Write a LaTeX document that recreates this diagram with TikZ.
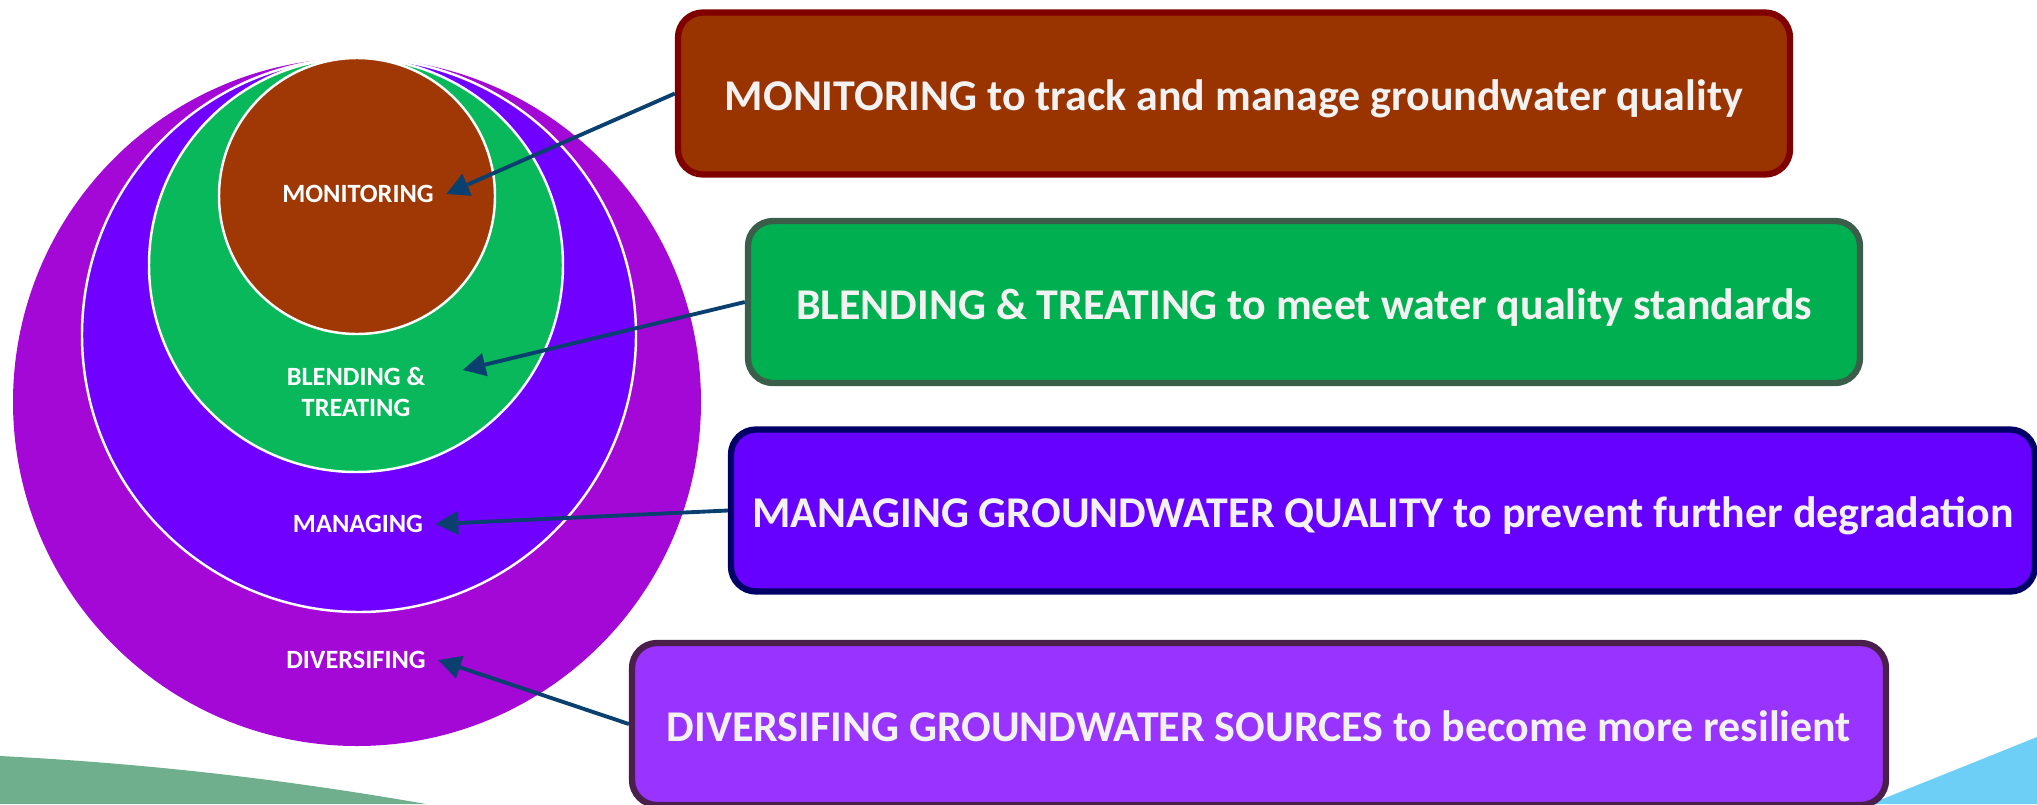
\documentclass[tikz,border=0pt]{standalone}
\usepackage{fontspec}
\setmainfont{Carlito}
\usetikzlibrary{arrows.meta}
\definecolor{divpurple}{HTML}{A308D6}
\definecolor{manblue}{HTML}{7000FF}
\definecolor{blendgreen}{HTML}{08B85A}
\definecolor{monbrown}{HTML}{A03806}
\definecolor{monfill}{HTML}{993300}
\definecolor{monline}{HTML}{800000}
\definecolor{blfill}{HTML}{00B050}
\definecolor{blline}{HTML}{3B5E4B}
\definecolor{mnfill}{HTML}{6600FF}
\definecolor{mnline}{HTML}{000066}
\definecolor{dvfill}{HTML}{9933FF}
\definecolor{dvline}{HTML}{4B1F4B}
\definecolor{arrowblue}{HTML}{0A4070}
\definecolor{swgreen}{HTML}{6FAF8E}
\definecolor{swblue}{HTML}{6DCFF6}
\begin{document}
\begin{tikzpicture}
            [ring/.style ={circle,draw=white,line width=0.7pt,inner sep=0pt},
             lbl/.style ={text=white,font=\bfseries\fontsize{7.5}{8.6}\selectfont,align=center},
             card/.style ={draw,rounded corners=2.5mm,line width=1.8pt,minimum height=1.62cm,
                           text height=0.43cm,text depth=0.09cm,
                           text=white!95!black,font=\bfseries\fontsize{12.5}{14}\selectfont},
             link/.style ={-{Triangle[length=6.5pt,width=6.5pt]},draw=arrowblue,line width=1.1pt}]
            \useasboundingbox (0,0) rectangle (20.37,8.04);
            % swooshes at the bottom
            \fill[swgreen] (0,0) -- (0,0.48) .. controls (1.6,0.40) and (3.0,0.22) .. (4.26,0) -- cycle;
            \fill[swblue] (18.70,0) .. controls (19.3,0.24) and (19.8,0.44) .. (20.37,0.67) -- (20.37,0) -- cycle;
            % nested circles
            \node[ring,draw=none,fill=divpurple,minimum size=6.88cm] (c4) at (3.57,4.02) {};
            \node[ring,fill=manblue,minimum size=5.54cm] (c3) at (3.59,4.69) {};
            \node[ring,fill=blendgreen,minimum size=4.14cm] (c2) at (3.56,5.39) {};
            \node[ring,fill=monbrown,minimum size=2.76cm] (c1) at (3.57,6.08) {};
            \node[lbl] (mon) at (3.58,6.10) {MONITORING};
            \node[lbl] (blend) at (3.56,4.12) {BLENDING \&\\TREATING};
            \node[lbl] (man) at (3.58,2.80) {MANAGING};
            \node[lbl] (div) at (3.56,1.44) {DIVERSIFING};
            % boxes
            \node[card,fill=monfill,draw=monline,minimum width=11.12cm] (mbox) at (12.34,7.105)
                {MONITORING to track and manage groundwater quality};
            \node[card,fill=blfill,draw=blline,minimum width=11.12cm] (bbox) at (13.04,5.02)
                {BLENDING \& TREATING to meet water quality standards};
            \node[card,fill=mnfill,draw=mnline,minimum width=13.04cm] (gbox) at (13.83,2.935)
                {MANAGING GROUNDWATER QUALITY to prevent further degradation};
            \node[card,fill=dvfill,draw=dvline,minimum width=12.54cm] (dbox) at (12.59,0.80)
                {DIVERSIFING GROUNDWATER SOURCES to become more resilient};
            \draw[link] (mbox.west) to (mon.east);
            \draw[link] (bbox.west) to ([xshift=2.5mm,yshift=2.2mm]blend.east);
            \draw[link] (gbox.west) to (man.east);
            \draw[link] (dbox.west) to (div.east);
        \end{tikzpicture}
\end{document}
